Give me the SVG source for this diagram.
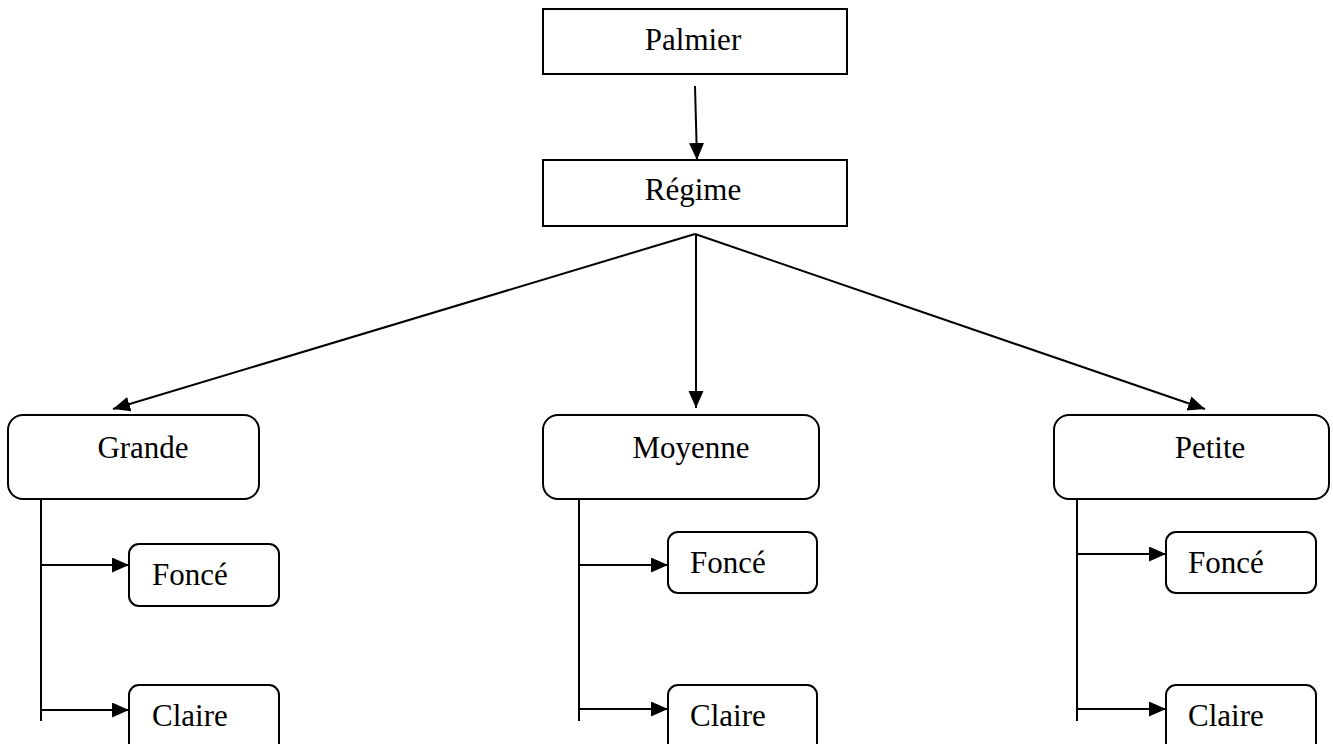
<svg xmlns="http://www.w3.org/2000/svg" width="1333" height="744" viewBox="0 0 1333 744">
<style>
.box{fill:#fff;stroke:#000;stroke-width:2}
.t{font-family:"Liberation Serif","Times New Roman",serif;font-size:31px;fill:#000}
.c{text-anchor:middle}
.ln{stroke:#000;stroke-width:2;fill:none}
</style>
<defs>
<marker id="ah" markerUnits="userSpaceOnUse" markerWidth="18" markerHeight="16" refX="17" refY="7.5" orient="auto">
<path d="M0,0 L17,7.5 L0,15 z" fill="#000"/>
</marker>
</defs>
<rect width="1333" height="744" fill="#fff"/>
<g id="connectors">
<line class="ln" x1="695" y1="86" x2="697" y2="160" marker-end="url(#ah)"/>
<line class="ln" x1="695" y1="234" x2="113" y2="409" marker-end="url(#ah)"/>
<line class="ln" x1="696" y1="234" x2="696" y2="408" marker-end="url(#ah)"/>
<line class="ln" x1="695" y1="234" x2="1205" y2="409" marker-end="url(#ah)"/>
<line class="ln" x1="41" y1="496" x2="41" y2="721"/>
<line class="ln" x1="41" y1="565" x2="129" y2="565" marker-end="url(#ah)"/>
<line class="ln" x1="41" y1="710" x2="129" y2="710" marker-end="url(#ah)"/>
<line class="ln" x1="579" y1="496" x2="579" y2="721"/>
<line class="ln" x1="579" y1="565" x2="668" y2="565" marker-end="url(#ah)"/>
<line class="ln" x1="579" y1="709" x2="668" y2="709" marker-end="url(#ah)"/>
<line class="ln" x1="1077" y1="496" x2="1077" y2="721"/>
<line class="ln" x1="1077" y1="554" x2="1166" y2="554" marker-end="url(#ah)"/>
<line class="ln" x1="1077" y1="709" x2="1166" y2="709" marker-end="url(#ah)"/>
</g>
<g id="palmier">
<rect class="box" x="543" y="9" width="304" height="65"/>
<text class="t c" x="693" y="50">Palmier</text>
</g>
<g id="regime">
<rect class="box" x="543" y="160" width="304" height="66"/>
<text class="t c" x="693" y="200">Régime</text>
</g>
<g id="grande">
<rect class="box" x="8" y="415" width="251" height="84" rx="15"/>
<text class="t c" x="143" y="458">Grande</text>
</g>
<g id="moyenne">
<rect class="box" x="543" y="415" width="276" height="84" rx="15"/>
<text class="t c" x="691" y="458">Moyenne</text>
</g>
<g id="petite">
<rect class="box" x="1054" y="415" width="275" height="84" rx="15"/>
<text class="t c" x="1210" y="458">Petite</text>
</g>
<g id="grande-fonce">
<rect class="box" x="129" y="544" width="150" height="62" rx="10"/>
<text class="t" x="152" y="585">Foncé</text>
</g>
<g id="grande-claire">
<rect class="box" x="129" y="685" width="150" height="70" rx="10"/>
<text class="t" x="152" y="726">Claire</text>
</g>
<g id="moyenne-fonce">
<rect class="box" x="668" y="532" width="149" height="61" rx="10"/>
<text class="t" x="690" y="573">Foncé</text>
</g>
<g id="moyenne-claire">
<rect class="box" x="668" y="685" width="149" height="70" rx="10"/>
<text class="t" x="690" y="726">Claire</text>
</g>
<g id="petite-fonce">
<rect class="box" x="1166" y="532" width="150" height="61" rx="10"/>
<text class="t" x="1188" y="573">Foncé</text>
</g>
<g id="petite-claire">
<rect class="box" x="1166" y="685" width="150" height="70" rx="10"/>
<text class="t" x="1188" y="726">Claire</text>
</g>
</svg>
